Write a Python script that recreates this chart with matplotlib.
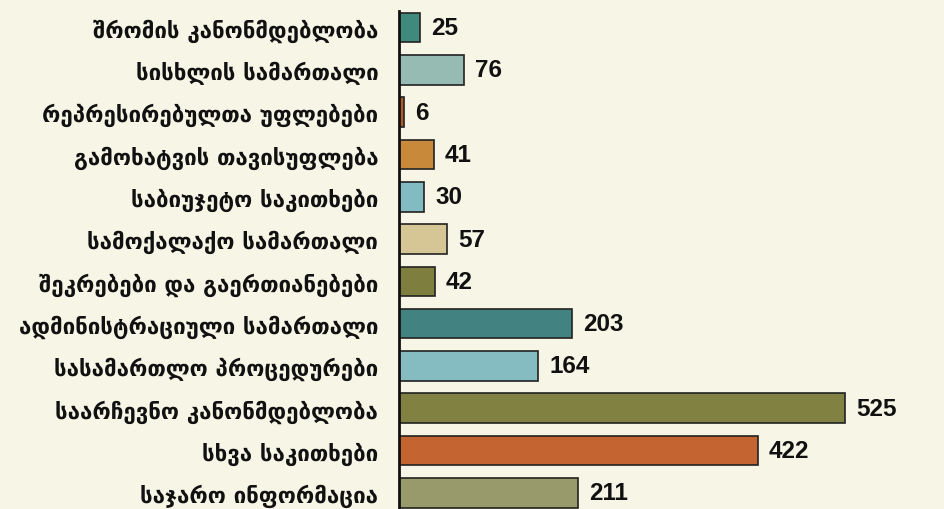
import matplotlib.pyplot as plt
import numpy as np

# data
categories = ['შრომის კანონმდებლობა', 'სისხლის სამართალი', 'რეპრესირებულთა უფლებები',
              'გამოხატვის თავისუფლება', 'საბიუჯეტო საკითხები', 'სამოქალაქო სამართალი',
              'შეკრებები და გაერთიანებები', 'ადმინისტრაციული სამართალი',
              'სასამართლო პროცედურები', 'საარჩევნო კანონმდებლობა', 'სხვა საკითხები',
              'საჯარო ინფორმაცია']
values = [25, 76, 6, 41, 30, 57, 42, 203, 164, 525, 422, 211]
colors = ['#3f8a7c', '#96bbb2', '#b25a25', '#c8893a', '#82bcc2', '#d6c695',
          '#7e7f3f', '#428381', '#84bcc2', '#818141', '#c36431', '#989a6b']

bg = '#f7f5e6'
fig = plt.figure(figsize=(9.45, 5.1), dpi=100, facecolor=bg)
ax = fig.add_axes([399/945, 0, 510/945, 498/510])
ax.set_facecolor(bg)

y = np.arange(len(values))
bars = ax.barh(y, values, height=0.7, color=colors, edgecolor='#222222', linewidth=1.2)

ax.set_xlim(0, 600)
ax.set_ylim(11.38, -0.39)
ax.set_yticks(y)
ax.set_yticklabels(categories, fontsize=16, fontweight='bold', family=['DejaVu Sans'],
                   color='#111111')
ax.tick_params(axis='y', length=0, pad=15)
ax.set_xticks([])
for s in ['top', 'right', 'bottom']:
    ax.spines[s].set_visible(False)
ax.spines['left'].set_linewidth(2)
ax.spines['left'].set_color('#111111')

for b, v in zip(bars, values):
    ax.annotate(str(v), (b.get_width(), b.get_y() + b.get_height() / 2),
                xytext=(8, 0), textcoords='offset points', va='center', ha='left',
                fontsize=17.5, fontweight='bold', color='#111111',
                family=['Liberation Sans Narrow', 'Liberation Sans', 'DejaVu Sans'],
                clip_on=False)

fig.savefig('out.png', dpi=100, facecolor=bg)
